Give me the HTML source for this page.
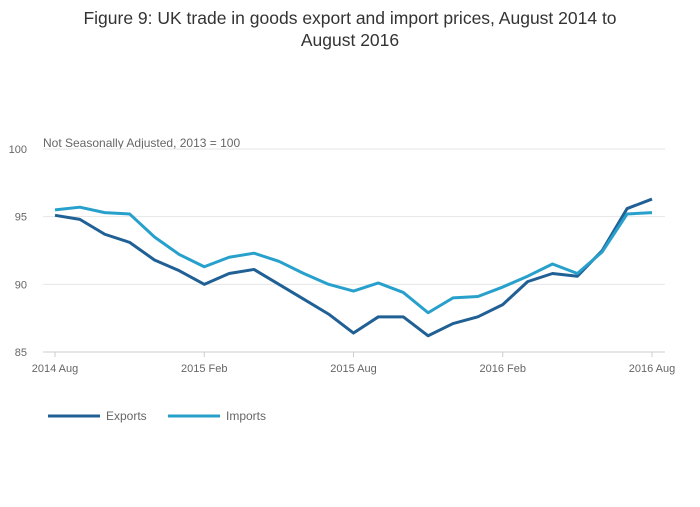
<!DOCTYPE html>
<html><head><meta charset="utf-8"><style>
body{margin:0;background:#fff;font-family:"Liberation Sans",sans-serif}
svg text{font-family:"Liberation Sans",sans-serif}
</style></head><body>
<svg id="chart" width="700" height="502">
<text x="350" y="24" text-anchor="middle" font-size="17.5" fill="#333">Figure 9: UK trade in goods export and import prices, August 2014 to</text>
<text x="350" y="46" text-anchor="middle" font-size="17.5" fill="#333">August 2016</text>
<text x="43" y="147" font-size="12" fill="#666">Not Seasonally Adjusted, 2013 = 100</text>
<g id="grid"></g><g id="axes"></g><g id="series"></g>
<g>
<line x1="48" y1="416" x2="100" y2="416" stroke="#206095" stroke-width="3"/>
<text x="106" y="420" font-size="12" fill="#666">Exports</text>
<line x1="168" y1="416" x2="220" y2="416" stroke="#27a0cc" stroke-width="3"/>
<text x="226" y="420" font-size="12" fill="#666">Imports</text>
</g>
</svg>
<script>
const months=24;
const exportsData=[95.1,94.8,93.7,93.1,91.8,91.0,90.0,90.8,91.1,90.0,88.9,87.8,86.4,87.6,87.6,86.2,87.1,87.6,88.5,90.2,90.8,90.6,92.5,95.6,96.3];
const importsData=[95.5,95.7,95.3,95.2,93.5,92.2,91.3,92.0,92.3,91.7,90.8,90.0,89.5,90.1,89.4,87.9,89.0,89.1,89.8,90.6,91.5,90.8,92.4,95.2,95.3];
const yTicks=[85,90,95,100];
const xTickLabels=["2014 Aug","2015 Feb","2015 Aug","2016 Feb","2016 Aug"];
const xTickIdx=[0,6,12,18,24];
const NS="http://www.w3.org/2000/svg";
const x=i=>55+i*(652-55)/months;
const y=v=>352-(v-85)*(352-149)/15;
function mk(t,a,p){const e=document.createElementNS(NS,t);for(const k in a)e.setAttribute(k,a[k]);p.appendChild(e);return e;}
const g=document.getElementById('grid'),ax=document.getElementById('axes'),s=document.getElementById('series');
yTicks.forEach(v=>{
 const l=mk('line',{x1:43,x2:665,y1:y(v),y2:y(v),stroke:v===85?'#ccc':'#e6e6e6'},g);
 
 
 const t=mk('text',{x:27,y:y(v)+4,'font-size':11,fill:'#666','text-anchor':'end'},ax);
 t.textContent=v;
 
 
});
xTickIdx.forEach((i,k)=>{
 const l=mk('line',{x1:x(i),x2:x(i),y1:352,y2:357,stroke:'#ccc'},ax);
 
 
 const t=mk('text',{x:x(i),y:372,'font-size':11,fill:'#666','text-anchor':'middle'},ax);
 t.textContent=xTickLabels[k];
 
 
});
[[exportsData,'#206095','exports-line'],[importsData,'#27a0cc','imports-line']].forEach(([d,c,n])=>{
 const p=mk('polyline',{points:d.map((v,i)=>x(i)+','+y(v)).join(' '),fill:'none',stroke:c,'stroke-width':3,'stroke-linejoin':'round'},s);
 
 
});
</script>
</body></html>
